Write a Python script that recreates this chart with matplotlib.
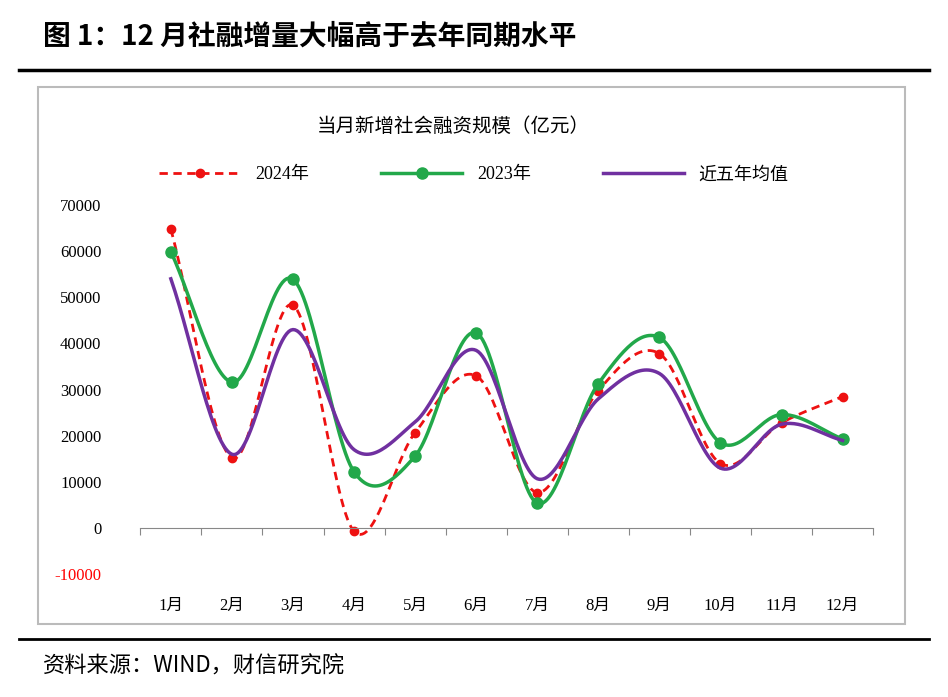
import matplotlib
matplotlib.use("Agg")
import matplotlib.pyplot as plt
import numpy as np
from matplotlib.patches import Rectangle
from matplotlib.lines import Line2D

plt.rcParams['font.family'] = ['Liberation Serif', 'Noto Sans CJK SC']

months = ['1月','2月','3月','4月','5月','6月','7月','8月','9月','10月','11月','12月']
y2024 = [64800, 15200, 48300, -700, 20700, 33000, 7700, 29800, 37800, 14000, 22800, 28500]
y2023 = [59900, 31600, 53900, 12200, 15600, 42300, 5400, 31300, 41300, 18500, 24600, 19300]
avg5 = [54000, 16000, 43000, 17000, 23000, 38500, 10700, 28000, 33500, 13000, 22500, 19000]
yticks = [-10000, 0, 10000, 20000, 30000, 40000, 50000, 60000, 70000]

def smooth(x, y, n=30):
    x = np.asarray(x, float); y = np.asarray(y, float)
    px = np.concatenate([[2*x[0]-x[1]], x, [2*x[-1]-x[-2]]])
    py = np.concatenate([[2*y[0]-y[1]], y, [2*y[-1]-y[-2]]])
    xs, ys = [], []
    t = np.linspace(0, 1, n)
    for i in range(1, len(px)-2):
        for arr, out in ((px, xs), (py, ys)):
            p0, p1, p2, p3 = arr[i-1], arr[i], arr[i+1], arr[i+2]
            out.extend(0.5*((2*p1) + (-p0+p2)*t + (2*p0-5*p1+4*p2-p3)*t**2 + (-p0+3*p1-3*p2+p3)*t**3))
    return xs, ys

fig = plt.figure(figsize=(9.48, 6.97), dpi=100)
fig.text(0.045, 0.948, '图 1：12 月社融增量大幅高于去年同期水平', fontsize=20, fontweight='bold',
         family=['Noto Sans CJK SC'], va='center')
fig.add_artist(Line2D([0.02, 0.98], [0.9, 0.9], color='black', lw=2.5))
fig.add_artist(Line2D([0.02, 0.98], [0.083, 0.083], color='black', lw=2))
fig.add_artist(Rectangle((0.04, 0.105), 0.915, 0.77, fill=False, edgecolor='#bbbbbb', lw=1.5))
fig.text(0.045, 0.045, '资料来源：WIND，财信研究院', fontsize=16, style='italic',
         family=['Noto Sans CJK SC'], va='center')
fig.text(0.478, 0.81, '当月新增社会融资规模（亿元）', fontsize=14, ha='center',
         family=['Noto Sans CJK SC'])

ax = fig.add_axes([0.148, 0.176, 0.773, 0.53])
x = np.arange(1, 13)
sx, sy = smooth(x, y2024)
ax.plot(sx, sy, color='#ee1111', lw=2, ls='--', dashes=(3, 2))
ax.plot(x, y2024, 'o', color='#ee1111', ms=6)
sx, sy = smooth(x, y2023)
ax.plot(sx, sy, color='#22a84a', lw=2.5)
ax.plot(x, y2023, 'o', color='#22a84a', ms=8)
sx, sy = smooth(x, avg5)
ax.plot(sx, sy, color='#7030a0', lw=2.5)

ax.set_xlim(0.5, 12.5)
ax.set_ylim(-10000, 70000)
ax.set_yticks(yticks)
ax.set_yticklabels([str(v) for v in yticks], fontsize=12)
ax.get_yticklabels()[0].set_color('red')
ax.tick_params(axis='y', length=0, pad=28)
for s in ['top', 'right', 'left']:
    ax.spines[s].set_visible(False)
ax.spines['bottom'].set_position(('data', 0))
ax.spines['bottom'].set_color('#888888')
ax.set_xticks(np.arange(0.5, 13, 1))
ax.set_xticklabels([])
ax.tick_params(axis='x', length=5, direction='out', color='#888888')
for i, m in enumerate(months):
    ax.text(i+1, -16800, m, ha='center', va='center', fontsize=12, clip_on=False,
            family=['Liberation Serif', 'Noto Sans CJK SC'])

handles = [Line2D([], [], color='#ee1111', lw=2, ls='--', marker='o', ms=6, dashes=(3, 2)),
           Line2D([], [], color='#22a84a', lw=2.5, marker='o', ms=8),
           Line2D([], [], color='#7030a0', lw=2.5)]
fig.legend(handles, ['2024年', '2023年', '近五年均值'], loc='center', bbox_to_anchor=(0.5, 0.749),
           ncol=3, frameon=False, handlelength=4.5, columnspacing=4,
           prop={'family': ['Liberation Serif', 'Noto Sans CJK SC'], 'size': 13})
fig.savefig('out.png', dpi=100)
